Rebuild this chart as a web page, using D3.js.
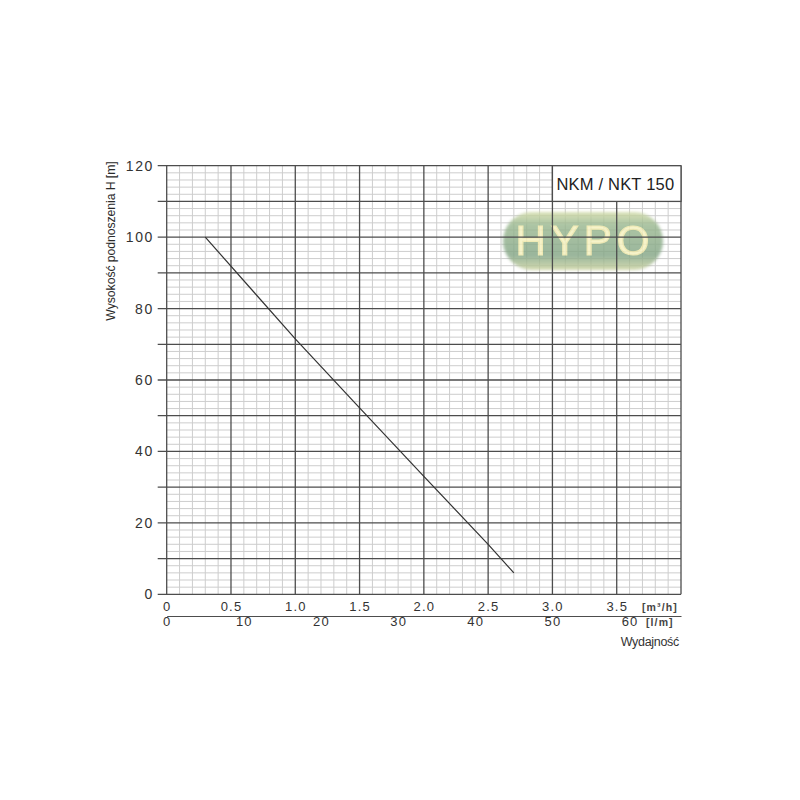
<!DOCTYPE html>
<html>
<head>
<meta charset="utf-8">
<script src="https://cdn.jsdelivr.net/npm/d3@7"></script>
<style>
  body { margin: 0; background: #fff; }
  svg text { font-family: "Liberation Sans", Arial, sans-serif; fill: #333; }
</style>
</head>
<body>
<svg id="chart" width="800" height="800"></svg>
<script>
/* data */
const flow_m3h = [0.3, 1.0, 1.5, 2.0, 2.5, 2.7],
  head_m = [100, 71.5, 52.2, 33, 14, 6];

const head_ticks = [0, 20, 40, 60, 80, 100, 120],
  flow_ticks = [0, 0.5, 1.0, 1.5, 2.0, 2.5, 3.0, 3.5],
  flow_labels = ["0", "0.5", "1.0", "1.5", "2.0", "2.5", "3.0", "3.5"],
  lmin_ticks = [0, 10, 20, 30, 40, 50, 60];

const title = "NKM / NKT 150",
  y_title = "Wysokość podnoszenia H [m]",
  x_title = "Wydajność",
  watermark = "HYPO";

/* layout */
const plot_left = 166.7,
  plot_right = 681,
  plot_top = 165.7,
  plot_bottom = 594.3,
  major = "#4d4d4d",
  minor = "#cdcdcd";

let svg = d3.select("#chart");

let x = d3.scaleLinear().domain([0, 4]).range([plot_left, plot_right]),
  y = d3.scaleLinear().domain([0, 120]).range([plot_bottom, plot_top]),
  xl = d3.scaleLinear().domain([0, 4 * 1000 / 60]).range([plot_left, plot_right]); // l/min

/* minor grid */
let grid = svg.append("g");

grid.selectAll(".vminor")
  .data(d3.range(1, 40).filter(i => i % 5 !== 0).map(i => i / 10))
  .join("line")
  .attr("x1", d => x(d)).attr("x2", d => x(d))
  .attr("y1", y(0)).attr("y2", y(120))
  .attr("stroke", minor).attr("stroke-width", 1);

grid.selectAll(".hminor")
  .data(d3.range(1, 60).filter(i => i % 5 !== 0).map(i => i * 2))
  .join("line")
  .attr("x1", x(0)).attr("x2", x(4))
  .attr("y1", d => y(d)).attr("y2", d => y(d))
  .attr("stroke", minor).attr("stroke-width", 1);

/* watermark */
let defs = svg.append("defs");
let grad = defs.append("linearGradient")
  .attr("id", "pill").attr("x1", 0).attr("y1", 0).attr("x2", 0).attr("y2", 1);
grad.append("stop").attr("offset", "0%").attr("stop-color", "#d3dca8");
grad.append("stop").attr("offset", "22%").attr("stop-color", "#9ab890");
grad.append("stop").attr("offset", "75%").attr("stop-color", "#84a686");
grad.append("stop").attr("offset", "100%").attr("stop-color", "#cbd3a0");

defs.append("filter").attr("id", "blur")
  .append("feGaussianBlur").attr("stdDeviation", 1.5);

let wm = svg.append("g").attr("opacity", 0.82);
wm.append("rect")
  .attr("x", 503).attr("y", 212).attr("width", 160).attr("height", 58)
  .attr("rx", 29)
  .attr("fill", "url(#pill)")
  .attr("filter", "url(#blur)");
wm.append("text")
  .attr("x", 585).attr("y", 255)
  .attr("text-anchor", "middle")
  .style("font-size", "42px")
  .style("letter-spacing", "5px")
  .style("fill", "#f5f1bf")
  .style("stroke", "#ece6a6")
  .style("stroke-width", 1.2)
  .text(watermark);

/* major grid */
grid = svg.append("g");

grid.selectAll(".vmajor")
  .data(d3.range(0, 9).map(i => i * 0.5))
  .join("line")
  .attr("x1", d => x(d)).attr("x2", d => x(d))
  .attr("y1", y(0)).attr("y2", y(120))
  .attr("stroke", major).attr("stroke-width", 1.3);

grid.selectAll(".hmajor")
  .data(d3.range(0, 13).map(i => i * 10))
  .join("line")
  .attr("x1", x(0) - 9).attr("x2", x(4))
  .attr("y1", d => y(d)).attr("y2", d => y(d))
  .attr("stroke", major).attr("stroke-width", 1.3);

/* title box */
svg.append("rect")
  .attr("x", x(3)).attr("y", y(120))
  .attr("width", x(4) - x(3)).attr("height", y(110) - y(120))
  .attr("fill", "#fff")
  .attr("stroke", major).attr("stroke-width", 1.3);

svg.append("text")
  .attr("x", x(3) + 4).attr("y", y(115) + 6)
  .style("font-size", "16.5px")
  .style("letter-spacing", "0.2px")
  .style("fill", "#222")
  .text(title);

/* curve */
let line = d3.line()
  .x((d, i) => x(flow_m3h[i]))
  .y(d => y(d));

svg.append("path")
  .datum(head_m)
  .attr("d", line)
  .attr("fill", "none")
  .attr("stroke", "#333")
  .attr("stroke-width", 1.2);

/* axes */
let y_axis = svg.append("g")
  .attr("transform", "translate(" + plot_left + ",0)")
  .call(d3.axisLeft(y).tickValues(head_ticks).tickSize(0).tickPadding(13));
y_axis.select(".domain").remove();
y_axis.selectAll("text")
  .style("font-size", "14px")
  .style("letter-spacing", "1.5px")
  .style("font-family", "'Liberation Sans', Arial, sans-serif")
  .attr("fill", "#333");

let x_axis = svg.append("g")
  .attr("transform", "translate(0," + plot_bottom + ")")
  .call(d3.axisBottom(x).tickValues(flow_ticks).tickSize(0).tickPadding(7)
    .tickFormat((d, i) => flow_labels[i]));
x_axis.select(".domain").remove();
x_axis.selectAll("text")
  .style("font-size", "13px")
  .style("letter-spacing", "1.2px")
  .style("font-family", "'Liberation Sans', Arial, sans-serif")
  .attr("fill", "#333");

let l_axis = svg.append("g")
  .attr("transform", "translate(0,616)")
  .call(d3.axisBottom(xl).tickValues(lmin_ticks).tickSize(0).tickPadding(1));
l_axis.select(".domain").attr("stroke", major).attr("stroke-width", 1.2);
l_axis.selectAll("text")
  .style("font-size", "13px")
  .style("letter-spacing", "1.2px")
  .style("font-family", "'Liberation Sans', Arial, sans-serif")
  .attr("fill", "#333");

/* unit labels */
svg.append("text")
  .attr("x", 642).attr("y", 611)
  .style("font-size", "10.5px")
  .style("font-weight", "bold")
  .style("letter-spacing", "1.1px")
  .style("fill", "#444")
  .text("[m³/h]");

svg.append("text")
  .attr("x", 646).attr("y", 626)
  .style("font-size", "10.5px")
  .style("font-weight", "bold")
  .style("letter-spacing", "1.1px")
  .style("fill", "#444")
  .text("[l/m]");

svg.append("text")
  .attr("x", 679).attr("y", 646)
  .attr("text-anchor", "end")
  .style("font-size", "12.5px")
  .style("letter-spacing", "-0.3px")
  .text(x_title);

svg.append("text")
  .attr("transform", "translate(115,241) rotate(-90)")
  .attr("text-anchor", "middle")
  .style("font-size", "12.3px")
  .style("letter-spacing", "-0.1px")
  .style("fill", "#2a2a2a")
  .text(y_title);
</script>
</body>
</html>
